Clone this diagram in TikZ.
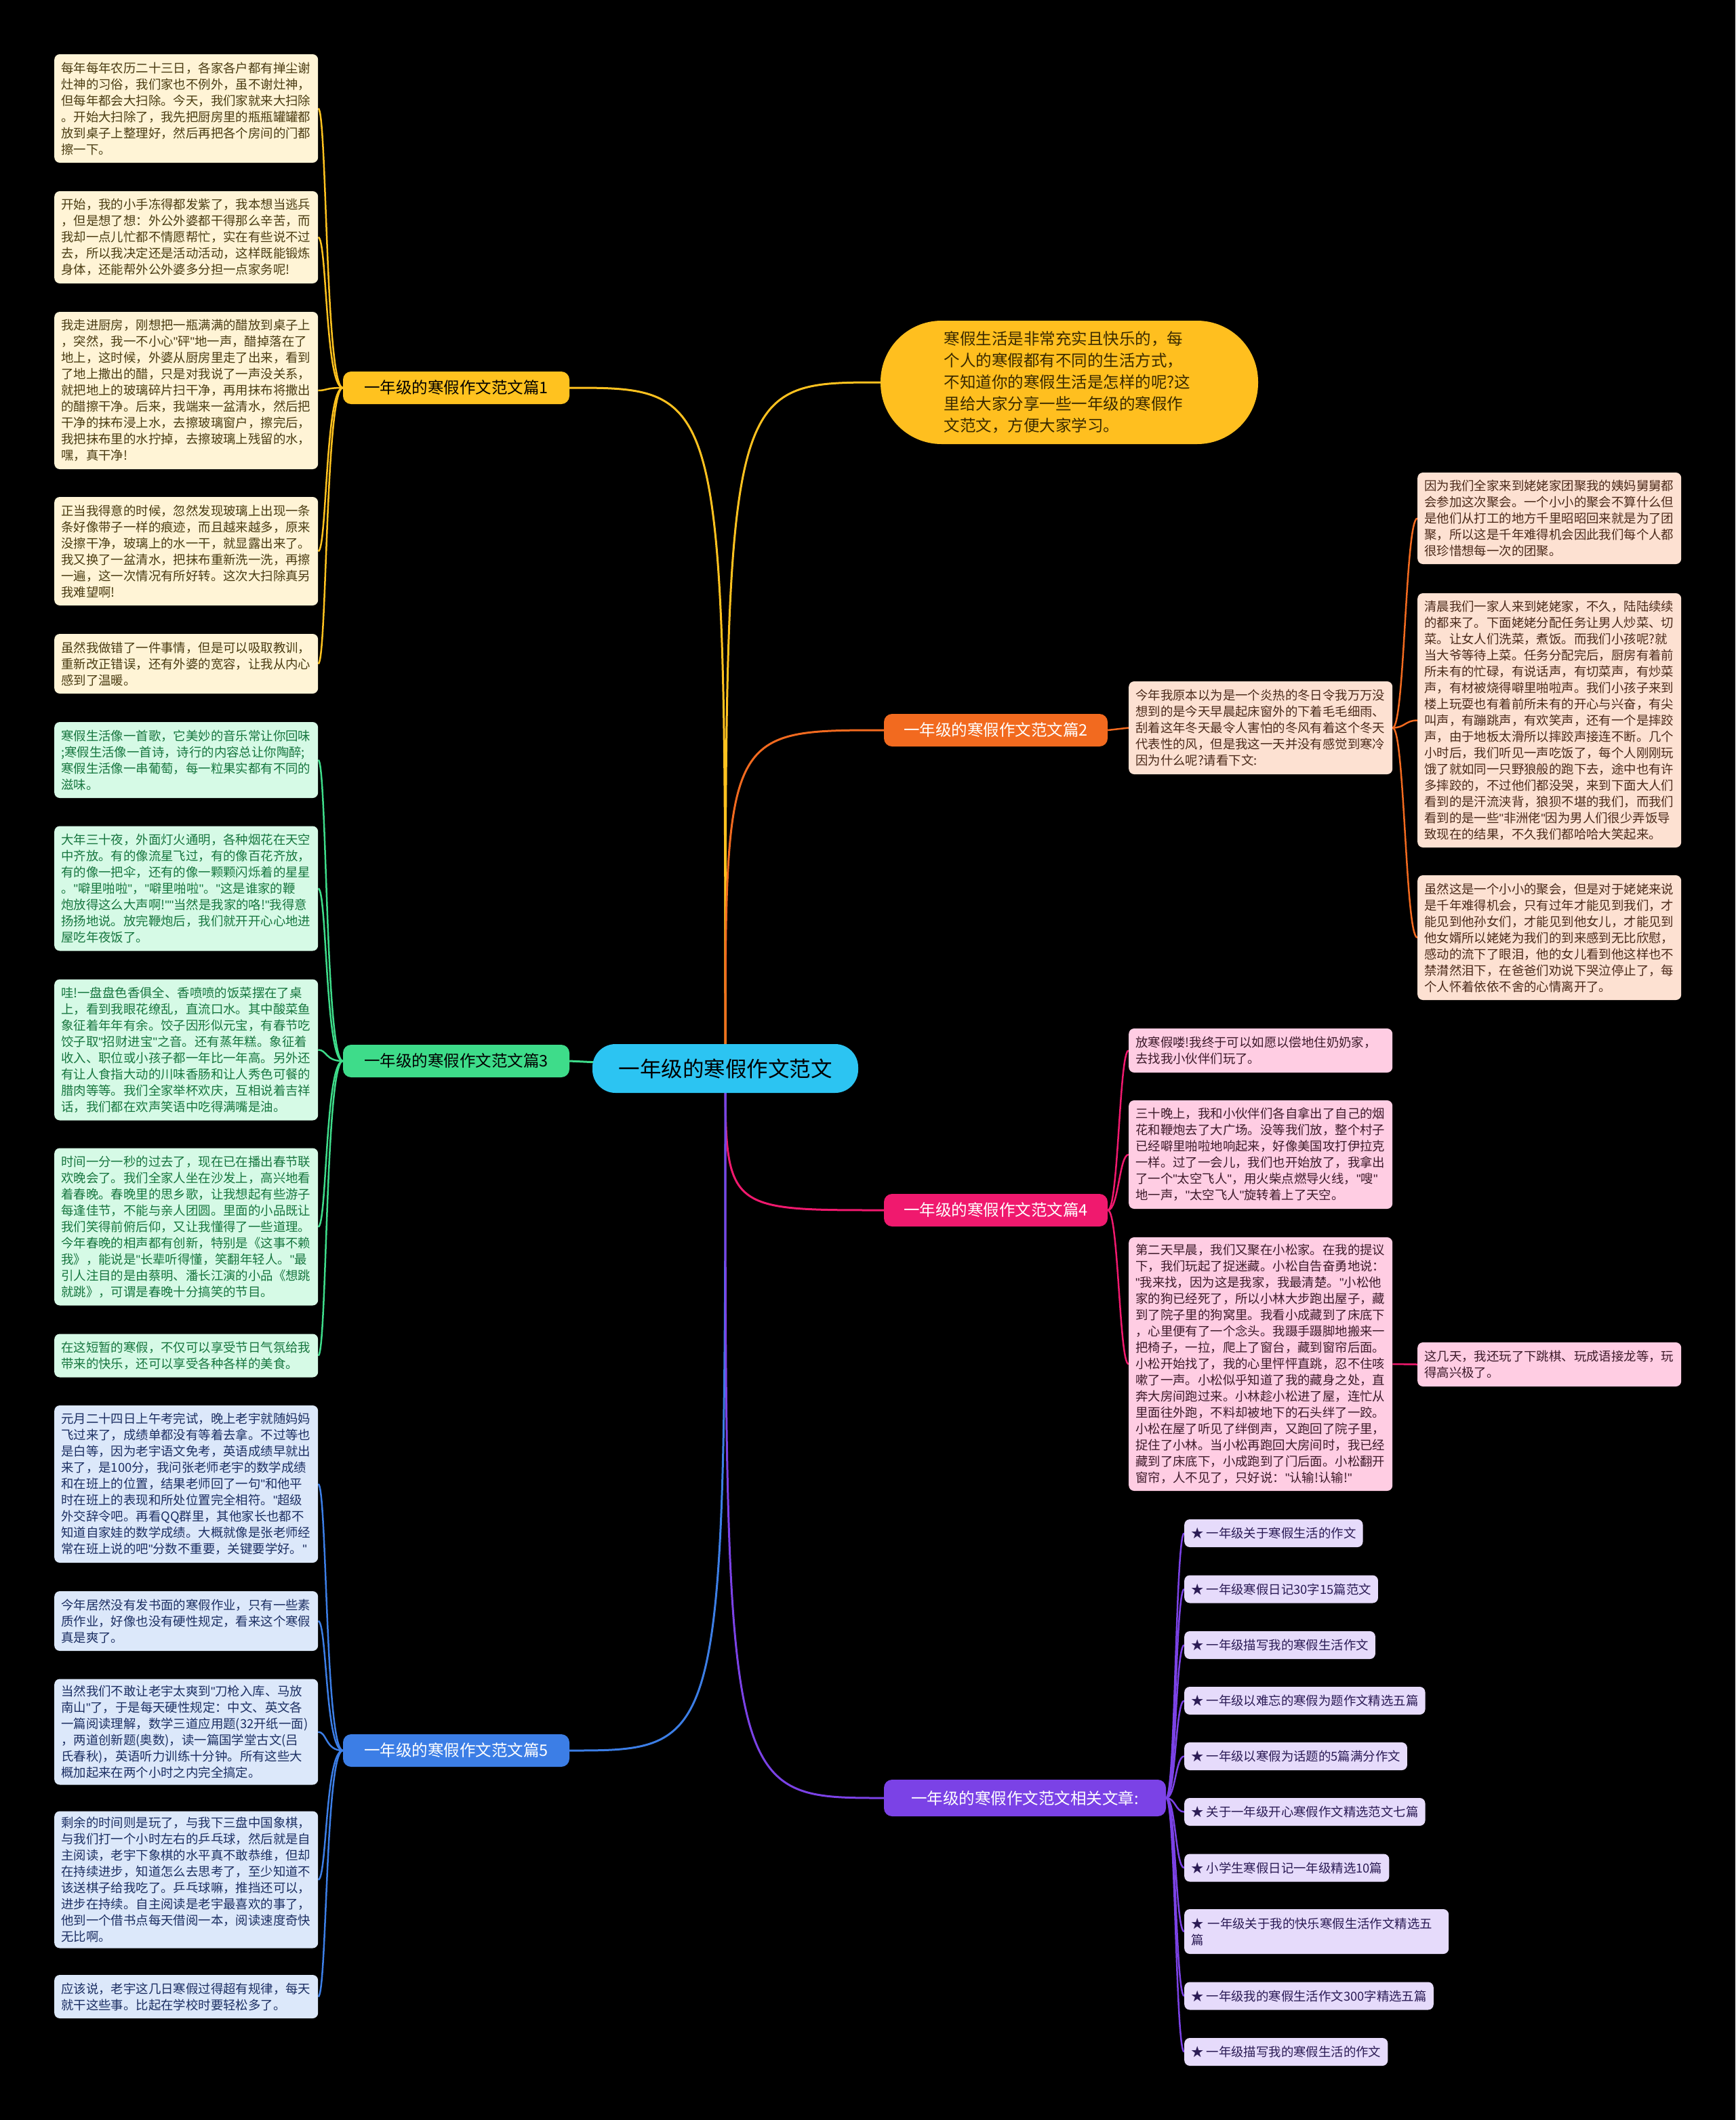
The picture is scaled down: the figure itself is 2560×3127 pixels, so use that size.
\documentclass[tikz,border=0pt]{standalone}
\usepackage{fontspec}
\setmainfont{Noto Sans CJK SC}
\newfontfamily\latf{Liberation Sans}
\newcommand\qq{{\latf"}}
\usetikzlibrary{backgrounds}
\definecolor{cY}{HTML}{FFC21F}
\definecolor{cO}{HTML}{F26A1F}
\definecolor{cG}{HTML}{3EDC8A}
\definecolor{cP}{HTML}{F0196E}
\definecolor{cB}{HTML}{3C7EE6}
\definecolor{cV}{HTML}{7B42E6}
\definecolor{cC}{HTML}{2CC4F2}
\definecolor{fY}{HTML}{FFF4D6}
\definecolor{tY}{HTML}{4A3C12}
\definecolor{fG}{HTML}{D6FAE6}
\definecolor{tG}{HTML}{17763F}
\definecolor{fB}{HTML}{DCE8FA}
\definecolor{tB}{HTML}{1C2F63}
\definecolor{fO}{HTML}{FDE1D2}
\definecolor{tO}{HTML}{4B2A1A}
\definecolor{fP}{HTML}{FFCDE3}
\definecolor{tP}{HTML}{3D1A2A}
\definecolor{fV}{HTML}{E6DBFB}
\definecolor{tV}{HTML}{2B1B55}
\definecolor{fI}{HTML}{FFBF1F}
\definecolor{tI}{HTML}{3A2A00}
\tikzset{
  leaf/.style={rounded corners=8pt, inner xsep=10pt, inner ysep=0pt, text width=369pt,
    align=left, anchor=west, font=\fontsize{18.4}{24}\selectfont},
  lY/.style={leaf, fill=fY, text=tY},
  lG/.style={leaf, fill=fG, text=tG},
  lB/.style={leaf, fill=fB, text=tB},
  lO/.style={leaf, fill=fO, text=tO},
  lP/.style={leaf, fill=fP, text=tP},
  relitem/.style={rounded corners=8pt, inner xsep=10pt, inner ysep=0pt, align=left,
    anchor=west, fill=fV, text=tV, minimum height=41pt, font=\fontsize{18.4}{24}\selectfont},
  branch/.style={rounded corners=12pt, minimum height=48pt, inner xsep=0pt,
    font=\fontsize{23.5}{28}\selectfont},
  mainconn/.style={line width=3pt},
  leafconn/.style={line width=2.5pt},
}
\begin{document}
\begin{tikzpicture}[x=1pt,y=-1pt]
\useasboundingbox (0,0) rectangle (2560,3127);

% ---------- center and branches
\node[rounded corners=34pt, fill=cC, text=black, minimum width=392pt, minimum height=72pt,
  font=\fontsize{31.5}{36}\selectfont] (c) at (1070,1576) {一年级的寒假作文范文};

\node[rounded corners=90pt, fill=fI, text=tI, minimum width=557pt, minimum height=182pt,
  inner xsep=0pt, text width=370pt, align=left, font=\fontsize{23.5}{32}\selectfont]
  (intro) at (1577.5,564) {寒假生活是非常充实且快乐的，每\\个人的寒假都有不同的生活方式，\\不知道你的寒假生活是怎样的呢?这\\里给大家分享一些一年级的寒假作\\文范文，方便大家学习。};

\node[branch, fill=cY, text=black, minimum width=334pt] (b1) at (673,572) {一年级的寒假作文范文篇1};
\node[branch, fill=cO, text=white, minimum width=330pt] (b2) at (1469,1077) {一年级的寒假作文范文篇2};
\node[branch, fill=cG, text=black, minimum width=334pt] (b3) at (673,1565) {一年级的寒假作文范文篇3};
\node[branch, fill=cP, text=white, minimum width=330pt] (b4) at (1469,1785) {一年级的寒假作文范文篇4};
\node[branch, fill=cB, text=white, minimum width=334pt] (b5) at (673,2582) {一年级的寒假作文范文篇5};
\node[branch, fill=cV, text=white, minimum width=416pt, minimum height=54pt] (b6) at (1512,2652) {一年级的寒假作文范文相关文章:};

% ---------- section 1
\node[lY, minimum height=160pt] (y1) at (80,160) {每年每年农历二十三日，各家各户都有掸尘谢\\灶神的习俗，我们家也不例外，虽不谢灶神，\\但每年都会大扫除。今天，我们家就来大扫除\\。开始大扫除了，我先把厨房里的瓶瓶罐罐都\\放到桌子上整理好，然后再把各个房间的门都\\擦一下。};
\node[lY, minimum height=136pt] (y2) at (80,350) {开始，我的小手冻得都发紫了，我本想当逃兵\\，但是想了想：外公外婆都干得那么辛苦，而\\我却一点儿忙都不情愿帮忙，实在有些说不过\\去，所以我决定还是活动活动，这样既能锻炼\\身体，还能帮外公外婆多分担一点家务呢!};
\node[lY, minimum height=232pt] (y3) at (80,576) {我走进厨房，刚想把一瓶满满的醋放到桌子上\\，突然，我一不小心\qq 砰\qq 地一声，醋掉落在了\\地上，这时候，外婆从厨房里走了出来，看到\\了地上撒出的醋，只是对我说了一声没关系，\\就把地上的玻璃碎片扫干净，再用抹布将撒出\\的醋擦干净。后来，我端来一盆清水，然后把\\干净的抹布浸上水，去擦玻璃窗户，擦完后，\\我把抹布里的水拧掉，去擦玻璃上残留的水，\\嘿，真干净!};
\node[lY, minimum height=160pt] (y4) at (80,813) {正当我得意的时候，忽然发现玻璃上出现一条\\条好像带子一样的痕迹，而且越来越多，原来\\没擦干净，玻璃上的水一干，就显露出来了。\\我又换了一盆清水，把抹布重新洗一洗，再擦\\一遍，这一次情况有所好转。这次大扫除真另\\我难望啊!};
\node[lY, minimum height=88pt] (y5) at (80,979) {虽然我做错了一件事情，但是可以吸取教训，\\重新改正错误，还有外婆的宽容，让我从内心\\感到了温暖。};

% ---------- section 3
\node[lG, minimum height=112pt] (g1) at (80,1121) {寒假生活像一首歌，它美妙的音乐常让你回味\\;寒假生活像一首诗，诗行的内容总让你陶醉;\\寒假生活像一串葡萄，每一粒果实都有不同的\\滋味。};
\node[lG, minimum height=184pt] (g2) at (80,1310.5) {大年三十夜，外面灯火通明，各种烟花在天空\\中齐放。有的像流星飞过，有的像百花齐放，\\有的像一把伞，还有的像一颗颗闪烁着的星星\\。\qq 噼里啪啦\qq ，\qq 噼里啪啦\qq 。\qq 这是谁家的鞭\\炮放得这么大声啊!\qq\qq 当然是我家的咯!\qq 我得意\\扬扬地说。放完鞭炮后，我们就开开心心地进\\屋吃年夜饭了。};
\node[lG, minimum height=208pt] (g3) at (80,1548.5) {哇!一盘盘色香俱全、香喷喷的饭菜摆在了桌\\上，看到我眼花缭乱，直流口水。其中酸菜鱼\\象征着年年有余。饺子因形似元宝，有春节吃\\饺子取\qq 招财进宝\qq 之音。还有蒸年糕。象征着\\收入、职位或小孩子都一年比一年高。另外还\\有让人食指大动的川味香肠和让人秀色可餐的\\腊肉等等。我们全家举杯欢庆，互相说着吉祥\\话，我们都在欢声笑语中吃得满嘴是油。};
\node[lG, minimum height=232pt] (g4) at (80,1809.5) {时间一分一秒的过去了，现在已在播出春节联\\欢晚会了。我们全家人坐在沙发上，高兴地看\\着春晚。春晚里的思乡歌，让我想起有些游子\\每逢佳节，不能与亲人团圆。里面的小品既让\\我们笑得前俯后仰，又让我懂得了一些道理。\\今年春晚的相声都有创新，特别是《这事不赖\\我》，能说是\qq 长辈听得懂，笑翻年轻人。\qq 最\\引人注目的是由蔡明、潘长江演的小品《想跳\\就跳》，可谓是春晚十分搞笑的节目。};
\node[lG, minimum height=64pt] (g5) at (80,1999.5) {在这短暂的寒假，不仅可以享受节日气氛给我\\带来的快乐，还可以享受各种各样的美食。};

% ---------- section 5
\node[lB, minimum height=232pt] (u1) at (80,2189) {元月二十四日上午考完试，晚上老宇就随妈妈\\飞过来了，成绩单都没有等着去拿。不过等也\\是白等，因为老宇语文免考，英语成绩早就出\\来了，是100分，我问张老师老宇的数学成绩\\和在班上的位置，结果老师回了一句\qq 和他平\\时在班上的表现和所处位置完全相符。\qq 超级\\外交辞令吧。再看QQ群里，其他家长也都不\\知道自家娃的数学成绩。大概就像是张老师经\\常在班上说的吧\qq 分数不重要，关键要学好。\qq};
\node[lB, minimum height=88pt] (u2) at (80,2391) {今年居然没有发书面的寒假作业，只有一些素\\质作业，好像也没有硬性规定，看来这个寒假\\真是爽了。};
\node[lB, minimum height=156pt] (u3) at (80,2554.5) {当然我们不敢让老宇太爽到\qq 刀枪入库、马放\\南山\qq 了，于是每天硬性规定：中文、英文各\\一篇阅读理解，数学三道应用题(32开纸一面)\\，两道创新题(奥数)，读一篇国学堂古文(吕\\氏春秋)，英语听力训练十分钟。所有这些大\\概加起来在两个小时之内完全搞定。};
\node[lB, minimum height=202pt] (u4) at (80,2772.5) {剩余的时间则是玩了，与我下三盘中国象棋，\\与我们打一个小时左右的乒乓球，然后就是自\\主阅读，老宇下象棋的水平真不敢恭维，但却\\在持续进步，知道怎么去思考了，至少知道不\\该送棋子给我吃了。乒乓球嘛，推挡还可以，\\进步在持续。自主阅读是老宇最喜欢的事了，\\他到一个借书点每天借阅一本，阅读速度奇快\\无比啊。};
\node[lB, minimum height=64pt] (u5) at (80,2945) {应该说，老宇这几日寒假过得超有规律，每天\\就干这些事。比起在学校时要轻松多了。};

% ---------- section 2
\node[lO, minimum height=137pt] (om) at (1665,1073.5) {今年我原本以为是一个炎热的冬日令我万万没\\想到的是今天早晨起床窗外的下着毛毛细雨、\\刮着这年冬天最令人害怕的冬风有着这个冬天\\代表性的风，但是我这一天并没有感觉到寒冷\\因为什么呢?请看下文:};
\node[lO, minimum height=135pt] (o1) at (2091,764.5) {因为我们全家来到姥姥家团聚我的姨妈舅舅都\\会参加这次聚会。一个小小的聚会不算什么但\\是他们从打工的地方千里昭昭回来就是为了团\\聚，所以这是千年难得机会因此我们每个人都\\很珍惜想每一次的团聚。};
\node[lO, minimum height=375pt] (o2) at (2091,1062.5) {清晨我们一家人来到姥姥家，不久，陆陆续续\\的都来了。下面姥姥分配任务让男人炒菜、切\\菜。让女人们洗菜，煮饭。而我们小孩呢?就\\当大爷等待上菜。任务分配完后，厨房有着前\\所未有的忙碌，有说话声，有切菜声，有炒菜\\声，有材被烧得噼里啪啦声。我们小孩子来到\\楼上玩耍也有着前所未有的开心与兴奋，有尖\\叫声，有蹦跳声，有欢笑声，还有一个是摔跤\\声，由于地板太滑所以摔跤声接连不断。几个\\小时后，我们听见一声吃饭了，每个人刚刚玩\\饿了就如同一只野狼般的跑下去，途中也有许\\多摔跤的，不过他们都没哭，来到下面大人们\\看到的是汗流浃背，狼狈不堪的我们，而我们\\看到的是一些\qq 非洲佬\qq 因为男人们很少弄饭导\\致现在的结果，不久我们都哈哈大笑起来。};
\node[lO, minimum height=184pt] (o3) at (2091,1383) {虽然这是一个小小的聚会，但是对于姥姥来说\\是千年难得机会，只有过年才能见到我们，才\\能见到他孙女们，才能见到他女儿，才能见到\\他女婿所以姥姥为我们的到来感到无比欣慰，\\感动的流下了眼泪，他的女儿看到他这样也不\\禁潸然泪下，在爸爸们劝说下哭泣停止了，每\\个人怀着依依不舍的心情离开了。};

% ---------- section 4
\node[lP, minimum height=65pt] (p1) at (1665,1549.5) {放寒假喽!我终于可以如愿以偿地住奶奶家，\\去找我小伙伴们玩了。};
\node[lP, minimum height=160pt] (p2) at (1665,1703) {三十晚上，我和小伙伴们各自拿出了自己的烟\\花和鞭炮去了大广场。没等我们放，整个村子\\已经噼里啪啦地响起来，好像美国攻打伊拉克\\一样。过了一会儿，我们也开始放了，我拿出\\了一个\qq 太空飞人\qq ，用火柴点燃导火线，\qq 嗖\qq\\地一声，\qq 太空飞人\qq 旋转着上了天空。};
\node[lP, minimum height=374pt] (p3) at (1665,2012) {第二天早晨，我们又聚在小松家。在我的提议\\下，我们玩起了捉迷藏。小松自告奋勇地说：\\\qq 我来找，因为这是我家，我最清楚。\qq 小松他\\家的狗已经死了，所以小林大步跑出屋子，藏\\到了院子里的狗窝里。我看小成藏到了床底下\\，心里便有了一个念头。我蹑手蹑脚地搬来一\\把椅子，一拉，爬上了窗台，藏到窗帘后面。\\小松开始找了，我的心里怦怦直跳，忍不住咳\\嗽了一声。小松似乎知道了我的藏身之处，直\\奔大房间跑过来。小林趁小松进了屋，连忙从\\里面往外跑，不料却被地下的石头绊了一跤。\\小松在屋了听见了绊倒声，又跑回了院子里，\\捉住了小林。当小松再跑回大房间时，我已经\\藏到了床底下，小成跑到了门后面。小松翻开\\窗帘，人不见了，只好说：\qq 认输!认输!\qq};
\node[lP, minimum height=65pt] (p4) at (2091,2012.5) {这几天，我还玩了下跳棋、玩成语接龙等，玩\\得高兴极了。};

% ---------- related articles
\node[relitem] (r1) at (1747,2261.5) {★~一年级关于寒假生活的作文};
\node[relitem] (r2) at (1747,2344) {★~一年级寒假日记30字15篇范文};
\node[relitem] (r3) at (1747,2426.5) {★~一年级描写我的寒假生活作文};
\node[relitem] (r4) at (1747,2508.5) {★~一年级以难忘的寒假为题作文精选五篇};
\node[relitem] (r5) at (1747,2590.5) {★~一年级以寒假为话题的5篇满分作文};
\node[relitem] (r6) at (1747,2672.5) {★~关于一年级开心寒假作文精选范文七篇};
\node[relitem] (r7) at (1747,2755) {★~小学生寒假日记一年级精选10篇};
\node[relitem, text width=370pt, minimum height=66pt] (r8) at (1747,2849) {★~一年级关于我的快乐寒假生活作文精选五\\篇};
\node[relitem] (r9) at (1747,2944) {★~一年级我的寒假生活作文300字精选五篇};
\node[relitem] (r10) at (1747,3026.5) {★~一年级描写我的寒假生活的作文};

% ---------- connectors (behind nodes)
\begin{scope}[on background layer]
\fill[black] (0,0) rectangle (2560,3127);
\draw[mainconn, cY] (c.center) .. controls (c.center |- b1.east) .. (b1.east);
\draw[mainconn, cY] (c.center) .. controls (c.center |- intro.west) .. (intro.west);
\draw[mainconn, cO] (c.center) .. controls (c.center |- b2.west) .. (b2.west);
\draw[mainconn, cG] (c.center) -- (b3.east);
\draw[mainconn, cP] (c.center) .. controls (c.center |- b4.west) .. (b4.west);
\draw[mainconn, cB] (c.center) .. controls (c.center |- b5.east) .. (b5.east);
\draw[mainconn, cV] (c.center) .. controls (c.center |- b6.west) .. (b6.west);

\foreach \n in {y1,y2,y3,y4,y5}
  \draw[leafconn, cY] (b1.west) .. controls ([xshift=-26]b1.west) and ([xshift=13]\n.east) .. (\n.east);
\foreach \n in {g1,g2,g3,g4,g5}
  \draw[leafconn, cG] (b3.west) .. controls ([xshift=-26]b3.west) and ([xshift=13]\n.east) .. (\n.east);
\foreach \n in {u1,u2,u3,u4,u5}
  \draw[leafconn, cB] (b5.west) .. controls ([xshift=-26]b5.west) and ([xshift=13]\n.east) .. (\n.east);
\draw[leafconn, cO] (b2.east) -- (om.west);
\foreach \n in {o1,o2,o3}
  \draw[leafconn, cO] (om.east) .. controls ([xshift=18]om.east) and ([xshift=-18]\n.west) .. (\n.west);
\foreach \n in {p1,p2,p3}
  \draw[leafconn, cP] (b4.east) .. controls ([xshift=16]b4.east) and ([xshift=-14]\n.west) .. (\n.west);
\draw[leafconn, cP] (p3.east) -- (p4.west);
\foreach \n in {r1,r2,r3,r4,r5,r6,r7,r8,r9,r10}
  \draw[leafconn, cV] (b6.east) .. controls ([xshift=14]b6.east) and ([xshift=-13]\n.west) .. (\n.west);
\end{scope}
\end{tikzpicture}
\end{document}
